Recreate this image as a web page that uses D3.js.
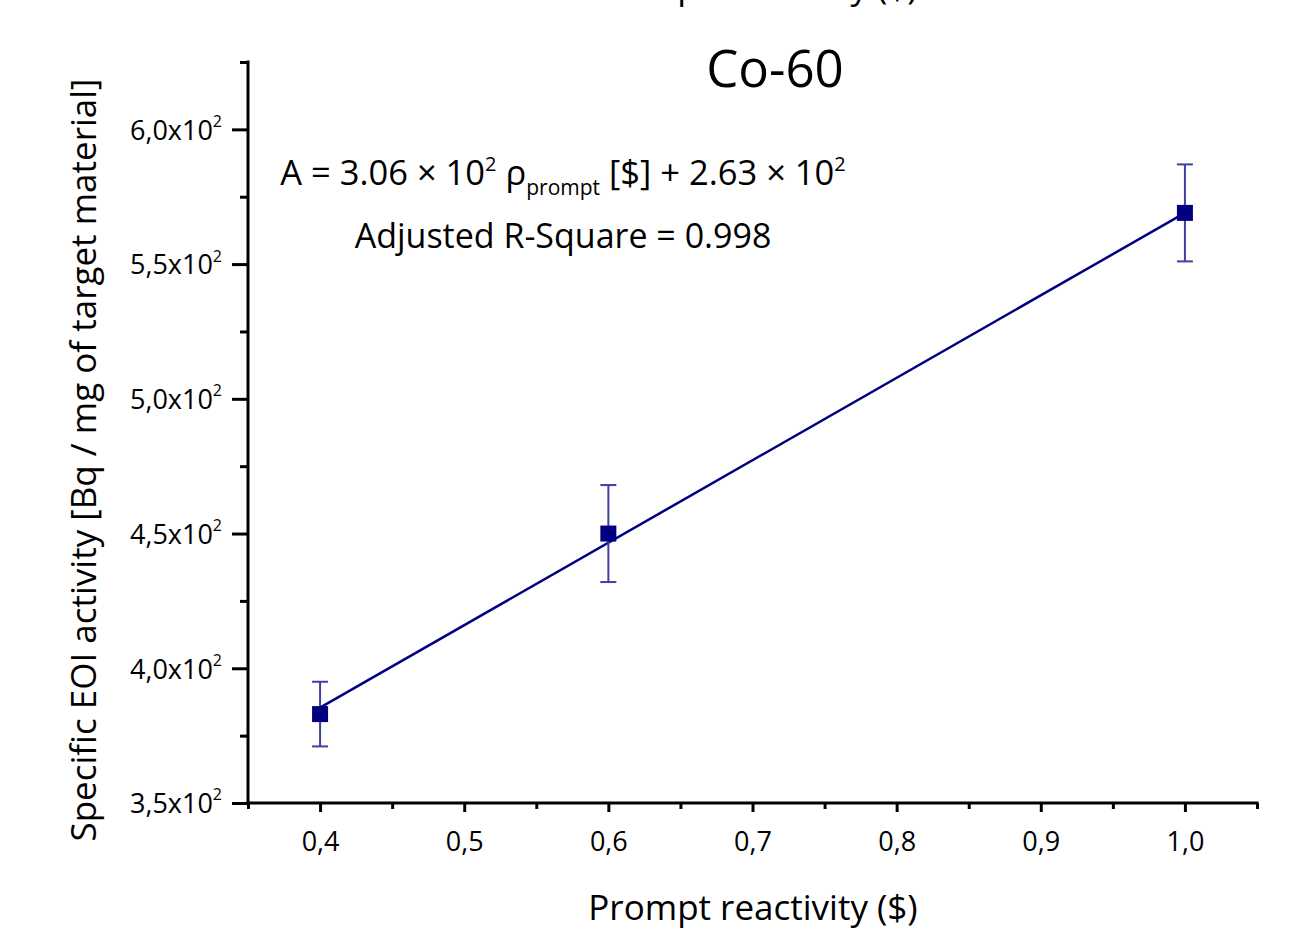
<!DOCTYPE html>
<html>
<head>
<meta charset="utf-8">
<script src="https://cdn.jsdelivr.net/npm/d3@7"></script>
<style>
  html, body { margin: 0; padding: 0; background: #fff; }
  svg { display: block; }
  text { font-family: "Open Sans", Lato, sans-serif; fill: #000; }
</style>
</head>
<body>
<script>
// Co-60 specific end-of-irradiation activity vs prompt reactivity
const reactivity = [0.4, 0.6, 1.0];
const activity   = [383, 450, 569];
const activityErr = [12, 18, 18];

// Linear fit A = slope * rho + intercept
const fitSlope = 306;
const fitIntercept = 263;

const xMajorTicks = [0.4, 0.5, 0.6, 0.7, 0.8, 0.9, 1.0];
const xMinorTicks = [0.35, 0.45, 0.55, 0.65, 0.75, 0.85, 0.95, 1.05];
const yMajorTicks = [350, 400, 450, 500, 550, 600];
const yMinorTicks = [375, 425, 475, 525, 575, 625];

const W = 1297, H = 936;
const svg = d3.select("body").append("svg").attr("width", W).attr("height", H);

const x = d3.scaleLinear().domain([0.35, 1.05]).range([248, 1257]);
const y = d3.scaleLinear().domain([350, 625]).range([803, 62]);

const axisColor = "#000";
const navy = "#000080";
const tickFont = 27;

// ----- axes -----
const gx = svg.append("g").attr("transform", `translate(0,${y(350)})`);
gx.call(d3.axisBottom(x).tickValues(xMajorTicks).tickSize(9).tickPadding(20)
  .tickFormat(d => d.toFixed(1).replace(".", ",")));
gx.call(g => g.select(".domain").remove());
gx.selectAll(".tick line").attr("stroke", axisColor).attr("stroke-width", 3);
gx.selectAll(".tick text").attr("font-size", tickFont)
  .attr("font-family", "'Open Sans', sans-serif").attr("fill", "#000");

const gxm = svg.append("g").attr("transform", `translate(0,${y(350)})`);
gxm.call(d3.axisBottom(x).tickValues(xMinorTicks).tickSize(6).tickFormat(""));
gxm.call(g => g.select(".domain").remove());
gxm.selectAll(".tick line").attr("stroke", axisColor).attr("stroke-width", 3);

const gy = svg.append("g").attr("transform", `translate(${x(0.35)},0)`);
gy.call(d3.axisLeft(y).tickValues(yMajorTicks).tickSize(16).tickFormat(""));
gy.call(g => g.select(".domain").remove());
gy.selectAll(".tick line").attr("stroke", axisColor).attr("stroke-width", 3);
gy.selectAll(".tick").append("text")
  .attr("x", -26).attr("dy", "0.36em")
  .attr("text-anchor", "end")
  .attr("font-size", tickFont)
  .each(function(d) {
    const t = d3.select(this);
    t.append("tspan").text((d / 100).toFixed(1).replace(".", ",") + "x10");
    t.append("tspan").attr("font-size", 16).attr("dy", "-0.8em").text("2");
  });

const gym = svg.append("g").attr("transform", `translate(${x(0.35)},0)`);
gym.call(d3.axisLeft(y).tickValues(yMinorTicks).tickSize(8).tickFormat(""));
gym.call(g => g.select(".domain").remove());
gym.selectAll(".tick line").attr("stroke", axisColor).attr("stroke-width", 3);

// axis lines
svg.append("line")
  .attr("x1", x(0.35)).attr("x2", x(1.05)).attr("y1", y(350)).attr("y2", y(350))
  .attr("stroke", axisColor).attr("stroke-width", 3).attr("stroke-linecap", "square");
svg.append("line")
  .attr("x1", x(0.35)).attr("x2", x(0.35)).attr("y1", y(350)).attr("y2", y(625))
  .attr("stroke", axisColor).attr("stroke-width", 3).attr("stroke-linecap", "square");

// ----- fit line -----
const fitX = d3.extent(reactivity);
svg.append("line")
  .attr("x1", x(fitX[0])).attr("y1", y(fitSlope * fitX[0] + fitIntercept))
  .attr("x2", x(fitX[1])).attr("y2", y(fitSlope * fitX[1] + fitIntercept))
  .attr("stroke", navy).attr("stroke-width", 2.5);

// ----- error bars -----
const pts = reactivity.map((r, i) => ({ r, a: activity[i], e: activityErr[i] }));
const eb = svg.append("g").attr("stroke", "#4040a4").attr("stroke-width", 2);
const capHalf = 8;
pts.forEach(p => {
  eb.append("line").attr("x1", x(p.r)).attr("x2", x(p.r))
    .attr("y1", y(p.a - p.e)).attr("y2", y(p.a + p.e));
  eb.append("line").attr("x1", x(p.r) - capHalf).attr("x2", x(p.r) + capHalf)
    .attr("y1", y(p.a + p.e)).attr("y2", y(p.a + p.e));
  eb.append("line").attr("x1", x(p.r) - capHalf).attr("x2", x(p.r) + capHalf)
    .attr("y1", y(p.a - p.e)).attr("y2", y(p.a - p.e));
});

// ----- markers -----
const ms = 16;
svg.append("g").selectAll("rect").data(pts).join("rect")
  .attr("x", d => x(d.r) - ms / 2).attr("y", d => y(d.a) - ms / 2)
  .attr("width", ms).attr("height", ms).attr("fill", navy);

// ----- titles -----
svg.append("text").attr("x", 775).attr("y", 87).attr("text-anchor", "middle")
  .attr("font-size", 51).text("Co-60");

svg.append("text").attr("x", 753).attr("y", 920).attr("text-anchor", "middle")
  .attr("font-size", 35).text("Prompt reactivity ($)");

// same axis caption repeated above the frame, mostly clipped off the top
svg.append("text").attr("x", 753).attr("y", -1).attr("text-anchor", "middle")
  .attr("font-size", 35).text("Prompt reactivity ($)");

svg.append("text").attr("transform", "translate(96,460) rotate(-90)")
  .attr("text-anchor", "middle").attr("font-size", 35)
  .text("Specific EOI activity [Bq / mg of target material]");

// ----- fit annotation -----
const eq = svg.append("text").attr("x", 563).attr("y", 185).attr("text-anchor", "middle")
  .attr("font-size", 34.5);
eq.append("tspan").text("A = " + (fitSlope / 100).toFixed(2) + " × 10");
eq.append("tspan").attr("font-size", 20).attr("dy", -14).text("2");
eq.append("tspan").attr("dy", 14).text(" ρ");
eq.append("tspan").attr("font-size", 21).attr("dy", 10).text("prompt");
eq.append("tspan").attr("dy", -10).text(" [$] + " + (fitIntercept / 100).toFixed(2) + " × 10");
eq.append("tspan").attr("font-size", 20).attr("dy", -14).text("2");

svg.append("text").attr("x", 563).attr("y", 248).attr("text-anchor", "middle")
  .attr("font-size", 34).text("Adjusted R-Square = 0.998");
</script>
</body>
</html>
